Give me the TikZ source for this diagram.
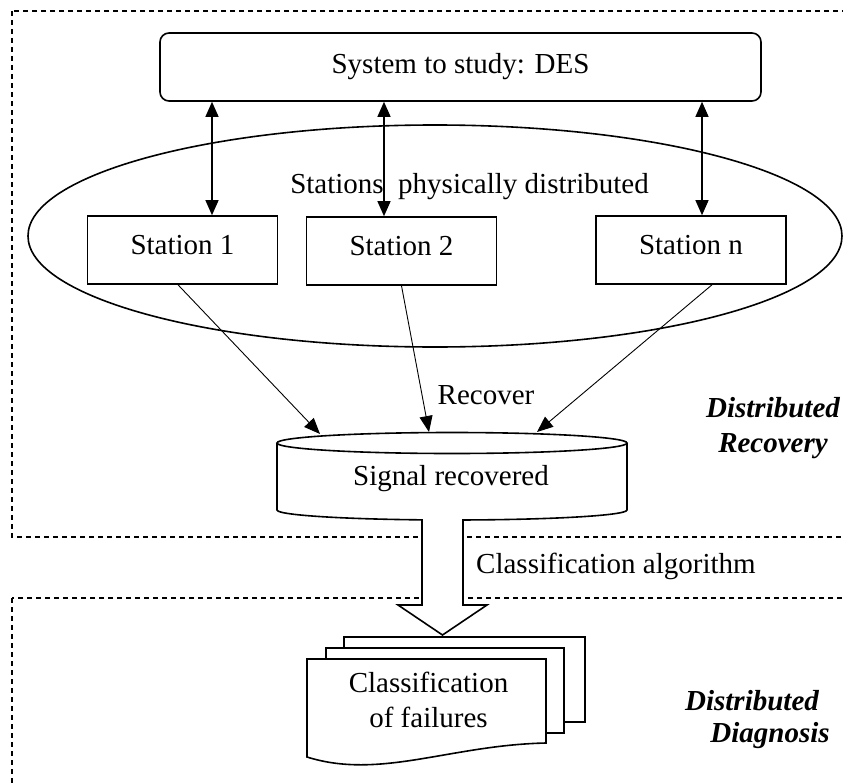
\documentclass[tikz,border=0pt]{standalone}
\usepackage{fontspec}
\setmainfont{Liberation Serif}
\usetikzlibrary{arrows.meta,shapes.geometric}

\begin{document}
\begin{tikzpicture}[x=1pt,y=-1pt,
  font=\fontsize{29}{35}\selectfont,
  frame/.style={draw, line width=1.1pt, dash pattern=on 5pt off 4pt},
  boxline/.style={line width=1.6pt},
  stationbox/.style={draw, boxline, minimum width=190pt, minimum height=68pt,
    inner sep=0pt, text height=20pt, text depth=12pt},
  link/.style={line width=1.2pt,
    {Triangle[length=15pt,width=13pt]}-{Triangle[length=15pt,width=13pt]}},
  feed/.style={line width=0.9pt, -{Triangle[length=16pt,width=13pt]}},
  label/.style={inner sep=0pt, anchor=base},
  side/.style={label, font=\fontsize{29}{35}\selectfont\bfseries\itshape}]

\useasboundingbox (0,0) rectangle (843,784);
\clip (0,0) rectangle (843,784);

% dashed zones
\draw[frame] (12,11) rectangle (880,537);
\draw[frame] (12,598) rectangle (880,820);

% system and stations
\node[draw, boxline, rounded corners=9pt, minimum width=601pt, minimum height=68pt,
  inner sep=0pt, text height=20pt, text depth=6pt] (sys) at (460.5,67) {System to study: DES};

\node[draw, boxline, ellipse, minimum width=814pt, minimum height=222pt, inner sep=0pt]
  (region) at (435,236) {};
\node[label] (regionlabel) at (469.5,193) {Stations\ \ physically distributed};

\node[stationbox] (st1) at (182.5,250) {Station 1};
\node[stationbox] (st2) at (401.5,251) {Station 2};
\node[stationbox] (stn) at (691,250) {Station n};

\coordinate (c1) at (212,0);
\coordinate (c2) at (384,0);
\coordinate (cn) at (702,0);
\draw[link] (sys.south -| c1) -- (st1.north -| c1);
\draw[link] (sys.south -| c2) -- (st2.north -| c2);
\draw[link] (sys.south -| cn) -- (stn.north -| cn);

% storage cylinder
\draw[boxline] (277,443) -- (277,510)
  arc[start angle=180, end angle=360, x radius=175pt, y radius=10pt] -- (627,443);
\draw[boxline] (452,443) ellipse[x radius=175pt, y radius=10.5pt];
\node[label] (sig) at (451,485) {Signal recovered};

% recovery links
\coordinate (in1) at (320,434);
\coordinate (in2) at (429,432);
\coordinate (inn) at (537,432);
\draw[feed] ([xshift=-4.5pt]st1.south) -- (in1);
\draw[feed] (st2.south) -- (in2);
\draw[feed] ([xshift=21pt]stn.south) -- (inn);
\node[label] (rec) at (486,404) {Recover};

% hollow block arrow
\draw[boxline, fill=white] (422,519) -- (422,605) -- (398,605) -- (442.5,635)
  -- (487,605) -- (463,605) -- (463,519);
\node[label, anchor=base west] (algo) at (476,573) {Classification algorithm};

% stacked documents
\draw[boxline, fill=white] (344,637) rectangle (585,722);
\draw[boxline, fill=white] (326,648) rectangle (564,733);
\draw[boxline, fill=white] (307,659) -- (546,659) -- (546,743)
  .. controls (450,745) and (380,780) .. (307,757) -- cycle;
\node[label] (doc1) at (428.5,692) {Classification};
\node[label] (doc2) at (428.5,727) {of failures};

% zone titles
\node[side] (rz1) at (773,417) {Distributed};
\node[side] (rz2) at (773,452) {Recovery};
\node[side] (dz1) at (752,710) {Distributed};
\node[side] (dz2) at (770,742) {Diagnosis};
\end{tikzpicture}
\end{document}
